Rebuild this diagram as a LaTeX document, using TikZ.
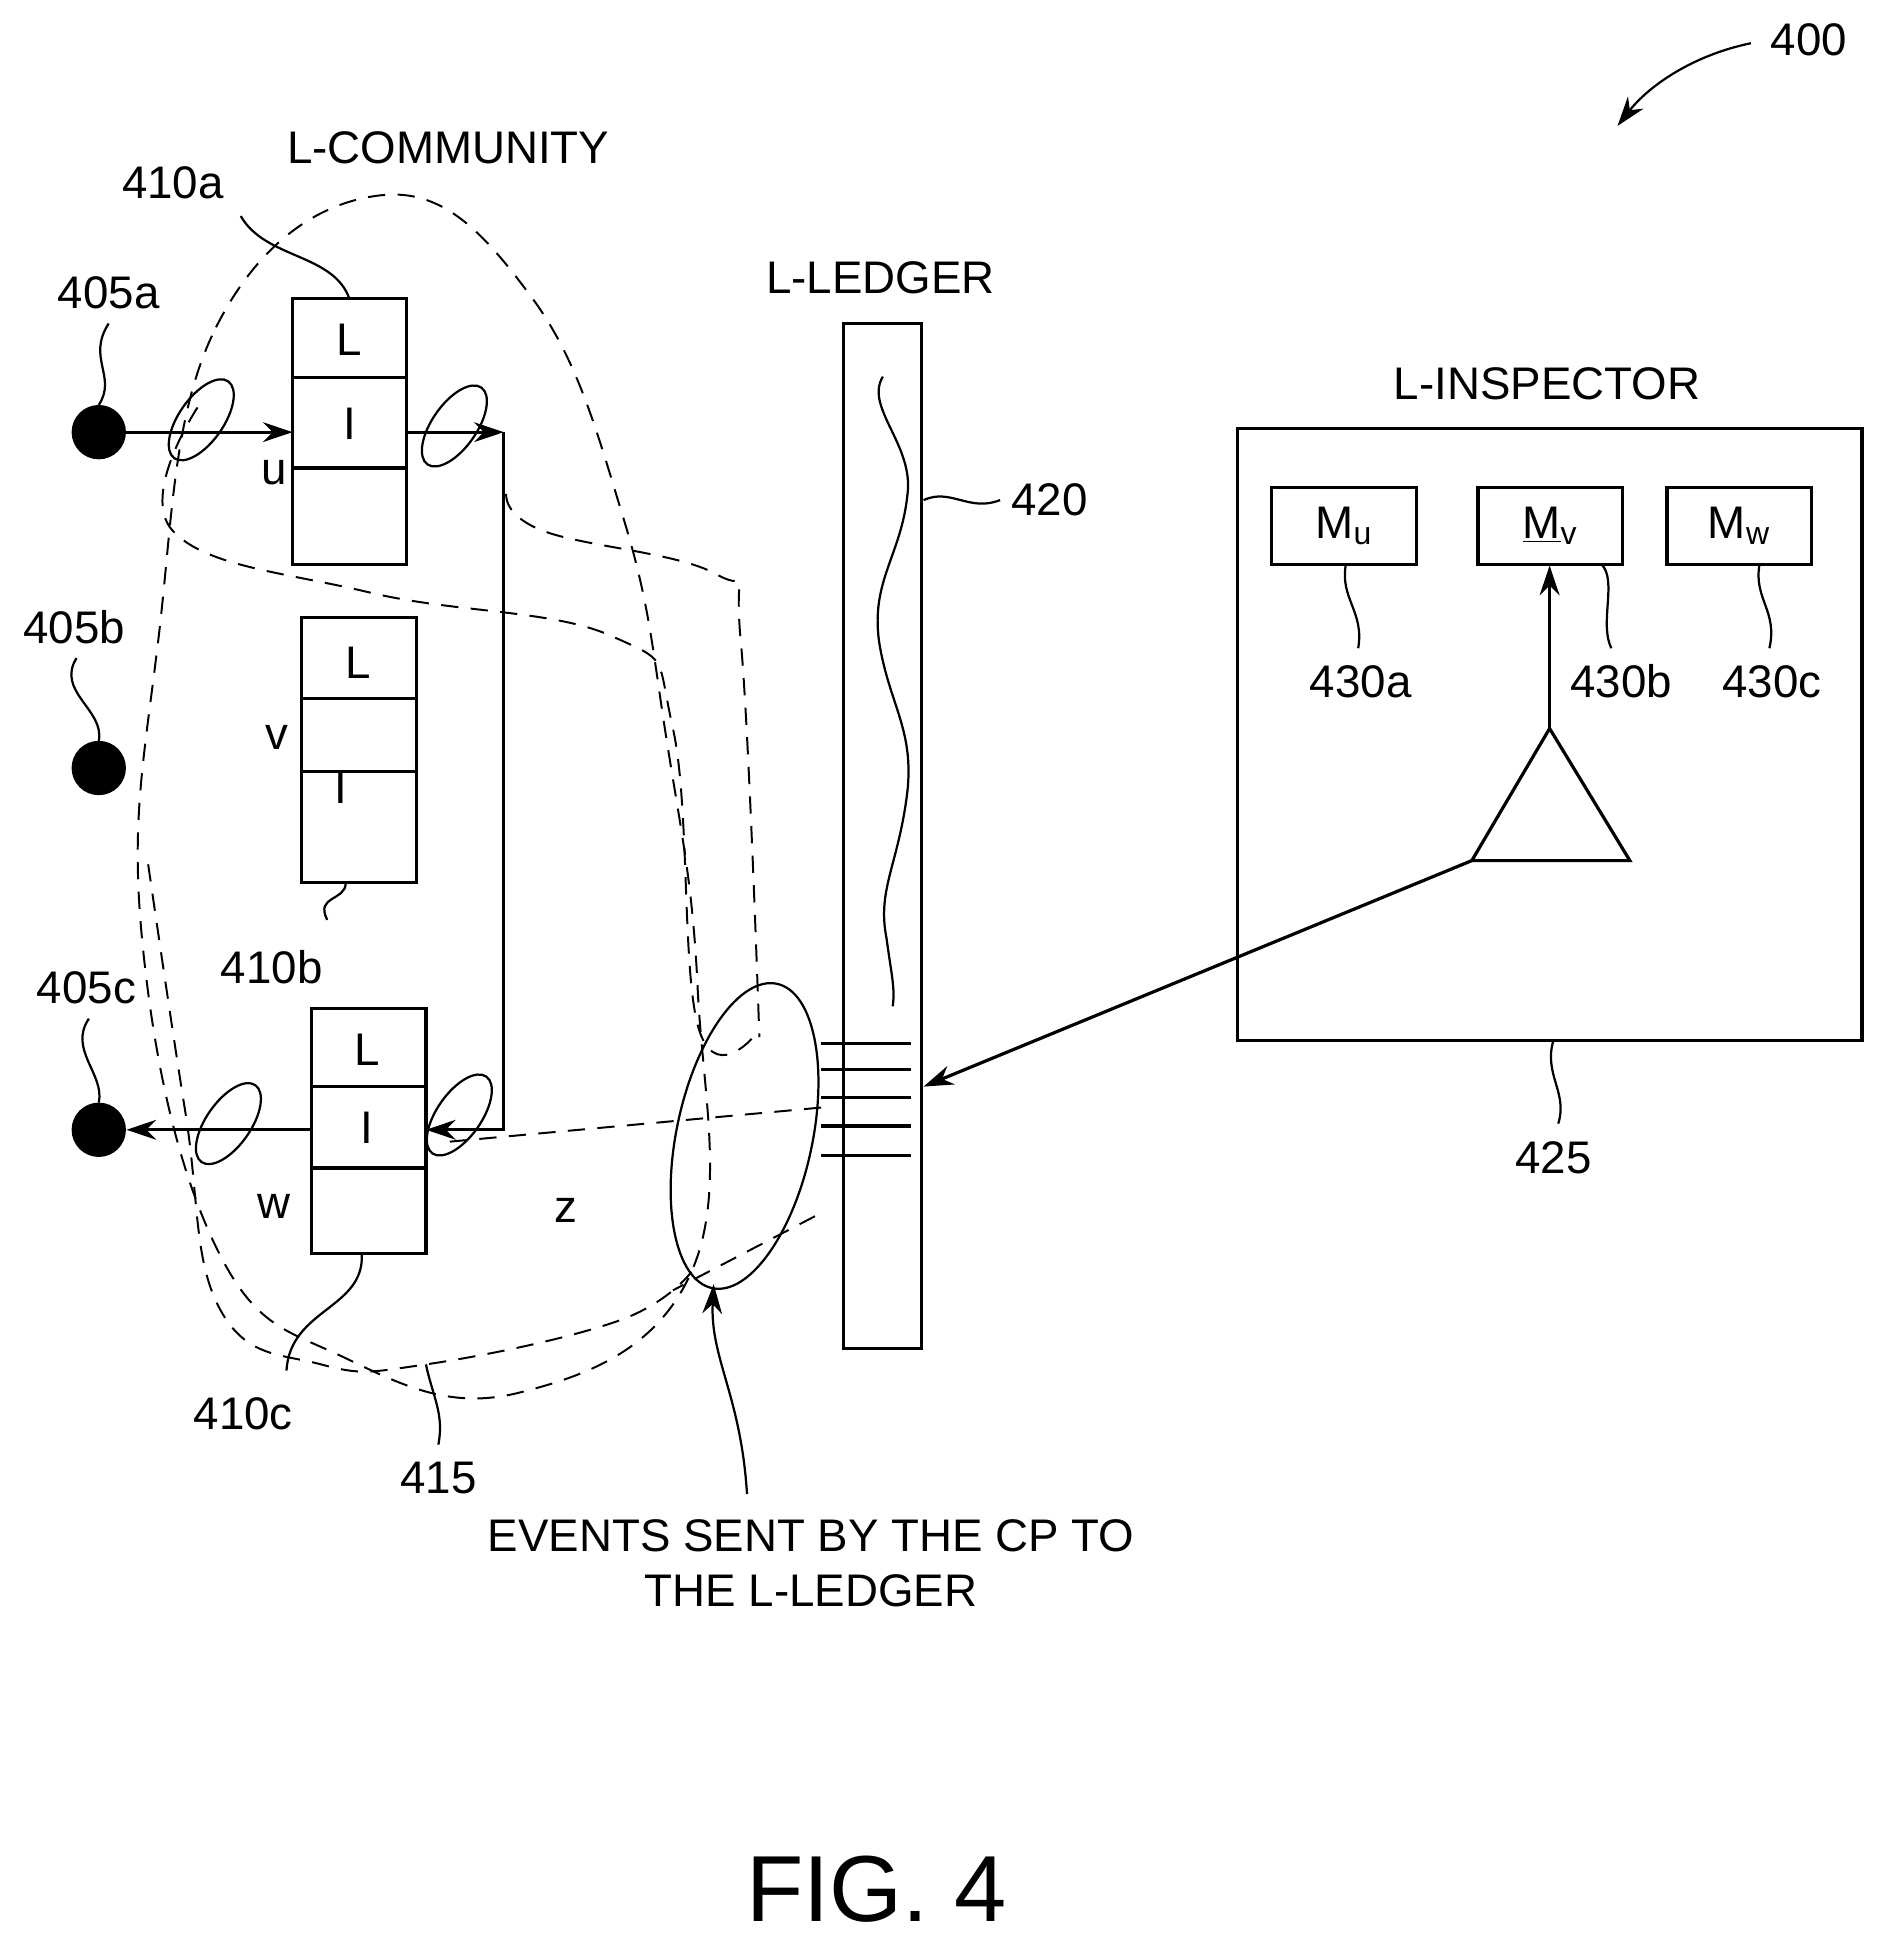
\documentclass[tikz,border=0pt]{standalone}
\usepackage{fontspec}
\setmainfont{Liberation Sans}
\usetikzlibrary{arrows.meta}
\begin{document}
\begin{tikzpicture}[x=0.5pt,y=-0.5pt,
  lbl/.style={font=\fontsize{18.5}{21}\selectfont,inner sep=1pt},
  ln/.style={line width=1.3pt},
  thin/.style={line width=0.9pt},
  dsh/.style={line width=0.8pt,dash pattern=on 7pt off 5pt},
  arr/.style={ln,-{Stealth[length=12pt,width=8pt]}},
  dot/.style={circle,fill=black,minimum size=22pt,inner sep=0pt}]
\useasboundingbox (0,0) rectangle (1530,1572);
% labels
\node[lbl] (l400) at (1465,32) {400};
\coordinate (a400) at (1310,102);
\draw[thin,-{Stealth[length=12pt,width=8pt]}] (1418,35) .. controls (1370,45) and (1335,70) .. (a400);
\node[lbl] (lcom) at (363,120) {L-COMMUNITY};
% boxes
\node[draw,ln,minimum width=46pt,minimum height=107.5pt,inner sep=0pt] (b1) at (283,349.5) {};
\draw[ln] (237,306) -- (329,306) (237,379) -- (329,379);
\node[lbl] at (283,275) {L}; \node[lbl] at (283,343) {I};
\node[draw,ln,minimum width=46.5pt,minimum height=107.5pt,inner sep=0pt] (b2) at (290.5,607.5) {};
\draw[ln] (244,566) -- (337,566) (244,625) -- (337,625);
\node[lbl] at (290,537) {L}; \node[lbl] at (276,638) {I};
\node[draw,ln,minimum width=46.5pt,minimum height=99pt,inner sep=0pt] (b3) at (298.5,916) {};
\draw[ln] (252,880) -- (345,880) (252,946) -- (345,946);
\node[lbl] at (297,850) {L}; \node[lbl] at (297,913) {I};
\node[lbl] (l410a) at (140,148) {410a};
\draw[thin] (195,175) .. controls (215,210) and (270,205) .. (283,242);
\node[lbl] (l410b) at (220,783) {410b};
\draw[thin] (265,745) .. controls (255,725) and (280,730) .. (280,715);
\node[lbl] (l410c) at (197,1145) {410c};
\draw[thin] (293,1016) .. controls (295,1060) and (235,1060) .. (232,1110);
\node[lbl] at (222,383) {u};
\node[lbl] at (224,597) {v};
\node[lbl] at (222,977) {w};
\node[lbl] at (458,980) {z};
% dots
\node[dot] (d1) at (80,350) {}; \node[dot] (d2) at (80,622) {}; \node[dot] (d3) at (80,915) {};
\node[lbl] (l405a) at (88,237) {405a};
\draw[thin] (88,262) .. controls (70,290) and (95,305) .. (80,328);
\node[lbl] (l405b) at (60,508) {405b};
\draw[thin] (62,533) .. controls (45,560) and (85,575) .. (80,600);
\node[lbl] (l405c) at (70,800) {405c};
\draw[thin] (72,825) .. controls (55,850) and (85,870) .. (80,893);
% connectors
\draw[arr] (d1) -- (237,350);
\coordinate (c1) at (408,350); \coordinate (c2) at (408,915);
\draw[arr] (329,350) -- (c1);
\draw[ln] (c1) -- (c2) -- (360,915);
\draw[arr] (c2) -- (345,915);
\draw[arr] (252,915) -- (d3);
% small ellipses
\draw[thin,rotate around={-35:(163,340)}] (163,340) ellipse[x radius=18, y radius=38];
\draw[thin,rotate around={-35:(368,345)}] (368,345) ellipse[x radius=18, y radius=38];
\draw[thin,rotate around={-35:(372,903)}] (372,903) ellipse[x radius=18, y radius=38];
\draw[thin,rotate around={-35:(185,910)}] (185,910) ellipse[x radius=18, y radius=38];
% ledger
\node[lbl] (lled) at (713,225) {L-LEDGER};
\node[draw,ln,minimum width=31.5pt,minimum height=415pt,inner sep=0pt] (led) at (714.5,677) {};
\draw[thin] (715,305) .. controls (700,330) and (740,360) .. (735,400)
  .. controls (730,450) and (705,470) .. (712,520) .. controls (720,570) and (740,590) .. (735,640)
  .. controls (728,700) and (710,720) .. (718,760) .. controls (722,790) and (725,800) .. (723,815);
\foreach \y in {845,866,889,912,936} \draw[ln] (665,\y) -- (738,\y);
\node[lbl] (l420) at (850,405) {420};
\draw[thin] (748,405) .. controls (770,395) and (785,415) .. (810,405);
% big ellipse
\draw[thin,rotate around={-12:(603,920)}] (603,920) ellipse[x radius=55, y radius=126];
\coordinate (ea) at (578,1040);
\draw[thin,-{Stealth[length=12pt,width=8pt]}] (605,1210) .. controls (600,1130) and (575,1100) .. (ea);
\node[lbl,align=center] (ev) at (657,1266) {EVENTS SENT BY THE CP TO\\[1pt]THE L-LEDGER};
% dashed
\draw[dsh] plot[smooth cycle,tension=0.7] coordinates {(128,520) (175,265) (310,158) (430,240) (505,420) (540,600) (565,800) (560,1030) (420,1128) (280,1100) (175,1010) (115,760)};
\draw[dsh] plot[smooth,tension=0.7] coordinates {(160,330) (140,430) (300,480) (495,515) (545,590) (565,830) (610,840)};
\draw[dsh] plot[smooth,tension=0.7] coordinates {(410,400) (440,430) (580,465) (600,520) (615,840)};
\draw[dsh] plot[smooth,tension=0.7] coordinates {(120,700) (150,900) (178,1060) (260,1105) (345,1105) (500,1070) (560,1030)};
\draw[dsh] (665,897) -- (360,925);
\draw[dsh] (660,985) -- (545,1045);
\node[lbl] (l415) at (355,1197) {415};
\draw[thin] (345,1105) .. controls (350,1130) and (360,1145) .. (355,1170);
% inspector
\node[lbl] (lins) at (1253,311) {L-INSPECTOR};
\node[draw,ln,minimum width=253pt,minimum height=248pt,inner sep=0pt] (ins) at (1255,595) {};
\node[draw,ln,minimum width=58.5pt,minimum height=31pt,inner sep=0pt,lbl] (mu) at (1088.5,426) {M\textsubscript{u}};
\node[draw,ln,minimum width=58.5pt,minimum height=31pt,inner sep=0pt,lbl] (mv) at (1255.5,426) {\underline{M}\textsubscript{v}};
\node[draw,ln,minimum width=58.5pt,minimum height=31pt,inner sep=0pt,lbl] (mw) at (1408.5,426) {M\textsubscript{w}};
\node[lbl] (l430a) at (1102,552) {430a};
\node[lbl] (l430b) at (1313,552) {430b};
\node[lbl] (l430c) at (1435,552) {430c};
\draw[thin] (1090,457) .. controls (1085,485) and (1105,495) .. (1100,525);
\draw[thin] (1297,457) .. controls (1310,470) and (1295,505) .. (1305,525);
\draw[thin] (1425,457) .. controls (1420,485) and (1440,495) .. (1433,525);
\coordinate (tA) at (1255,590); \coordinate (tL) at (1192,697); \coordinate (tR) at (1320,697);
\draw[ln] (tA) -- (tL) -- (tR) -- cycle;
\draw[arr] (tA) -- (1255,458);
\draw[arr] (tL) -- (748,880);
\node[lbl] (l425) at (1258,938) {425};
\draw[thin] (1258,843) .. controls (1250,870) and (1270,885) .. (1262,910);
\node[font=\fontsize{38}{40}\selectfont] (fig) at (710,1530) {FIG. 4};
\end{tikzpicture}
\end{document}
